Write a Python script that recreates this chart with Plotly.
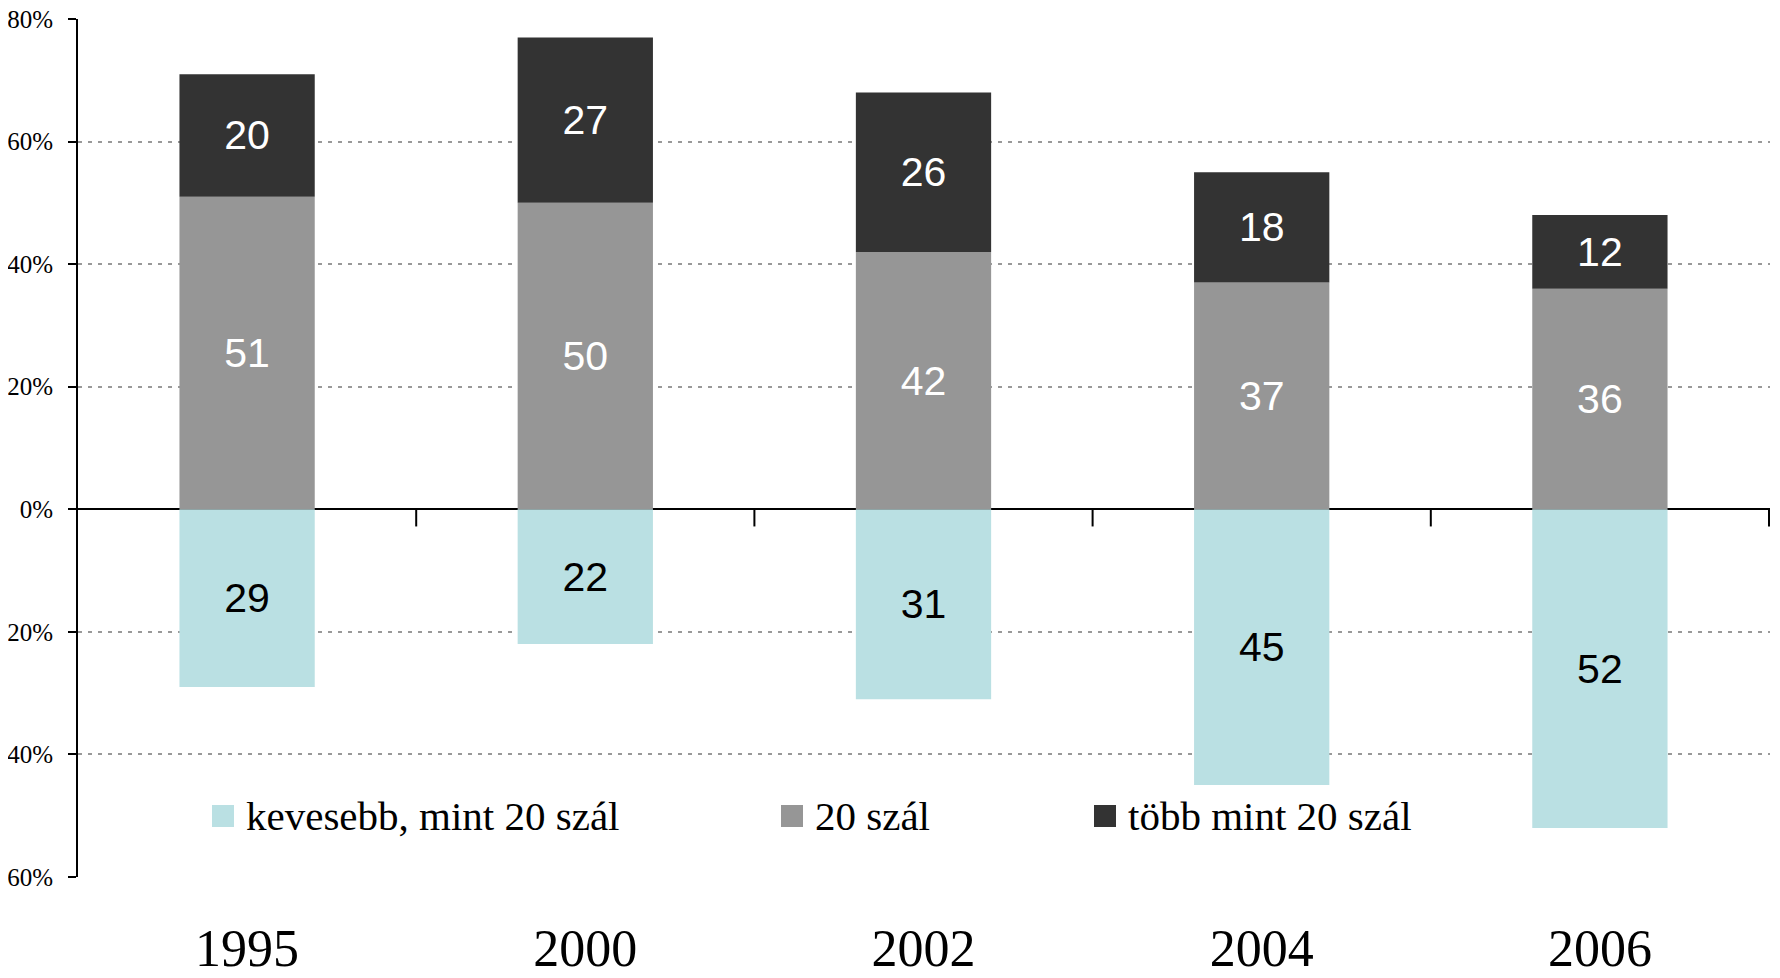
import plotly.graph_objects as go

# data
years = ["1995", "2000", "2002", "2004", "2006"]
less_than_20 = [29, 22, 31, 45, 52]     # drawn below zero
exactly_20 = [51, 50, 42, 37, 36]
more_than_20 = [20, 27, 26, 18, 12]

names = ["kevesebb, mint 20 szál", "20 szál", "több mint 20 szál"]
colors = ["#BAE0E3", "#969696", "#333333"]

ytick_vals = [-60, -40, -20, 0, 20, 40, 60, 80]
ytick_text = [str(abs(v)) + "%" for v in ytick_vals]

# page has an 8px body margin, so the figure is a bit smaller than the window
OFF = 8
W, H = 1772, 970
ml, mr, mt, mb = 70, 10, 11, 101
pw, ph = W - ml - mr, H - mt - mb


def px_x(p):
    return (p - OFF - ml) / pw


def px_y(p):
    return (H - mb - (p - OFF)) / ph


fig = go.Figure()

fig.add_trace(go.Bar(x=years, y=[-v for v in less_than_20], text=less_than_20,
                     name=names[0], marker_color=colors[0],
                     textfont=dict(color="black")))
fig.add_trace(go.Bar(x=years, y=exactly_20, text=exactly_20,
                     name=names[1], marker_color=colors[1],
                     textfont=dict(color="white")))
fig.add_trace(go.Bar(x=years, y=more_than_20, text=more_than_20,
                     name=names[2], marker_color=colors[2],
                     textfont=dict(color="white")))

fig.update_traces(textposition="inside", insidetextanchor="middle", textangle=0,
                  marker_line_width=0, showlegend=False)
fig.update_traces(textfont_family="Liberation Sans", textfont_size=41)

# tick marks hanging from the zero line at category boundaries
for i in range(len(years)):
    b = i + 0.5
    fig.add_shape(type="line", xref="x", yref="y", x0=b, x1=b, y0=0, y1=-2.8,
                  line=dict(color="black", width=2))

# legend drawn by hand (bigger swatches than plotly's)
leg_pos = [(212, 244), (781, 813), (1094, 1126)]
leg_y = 816
for (sx, tx), nm, c in zip(leg_pos, names, colors):
    fig.add_shape(type="rect", xref="paper", yref="paper",
                  x0=px_x(sx), x1=px_x(sx + 22), y0=px_y(leg_y - 11), y1=px_y(leg_y + 11),
                  fillcolor=c, line_width=0)
    fig.add_annotation(x=px_x(tx), y=px_y(leg_y), xref="paper", yref="paper",
                       text=nm, showarrow=False, xanchor="left", yanchor="middle",
                       font=dict(family="Liberation Serif", size=41, color="black"))

fig.update_layout(
    width=W, height=H,
    margin=dict(l=ml, r=mr, t=mt, b=mb),
    font=dict(family="Liberation Serif", color="black"),
    barmode="relative",
    bargap=0.6,
    paper_bgcolor="white",
    plot_bgcolor="white",
    showlegend=False,
    xaxis=dict(
        automargin=False,
        showline=False, showgrid=False, zeroline=False, ticks="",
        tickfont=dict(family="Liberation Serif", size=52, color="black"),
        ticklabelstandoff=36,
        ticklabeloverflow="allow",
    ),
    yaxis=dict(
        automargin=False,
        range=[-60, 80],
        tickmode="array",
        tickvals=ytick_vals, ticktext=ytick_text,
        tickfont=dict(family="Liberation Serif", size=25, color="black"),
        showline=True, linecolor="black", linewidth=2,
        ticks="outside", ticklen=8, tickwidth=2, tickcolor="black",
        ticklabelstandoff=10,
        ticklabeloverflow="allow",
        showgrid=True, gridcolor="#999999", gridwidth=2, griddash="4px,6px",
        zeroline=True, zerolinecolor="black", zerolinewidth=2,
    ),
)

fig.write_html("out.html")
